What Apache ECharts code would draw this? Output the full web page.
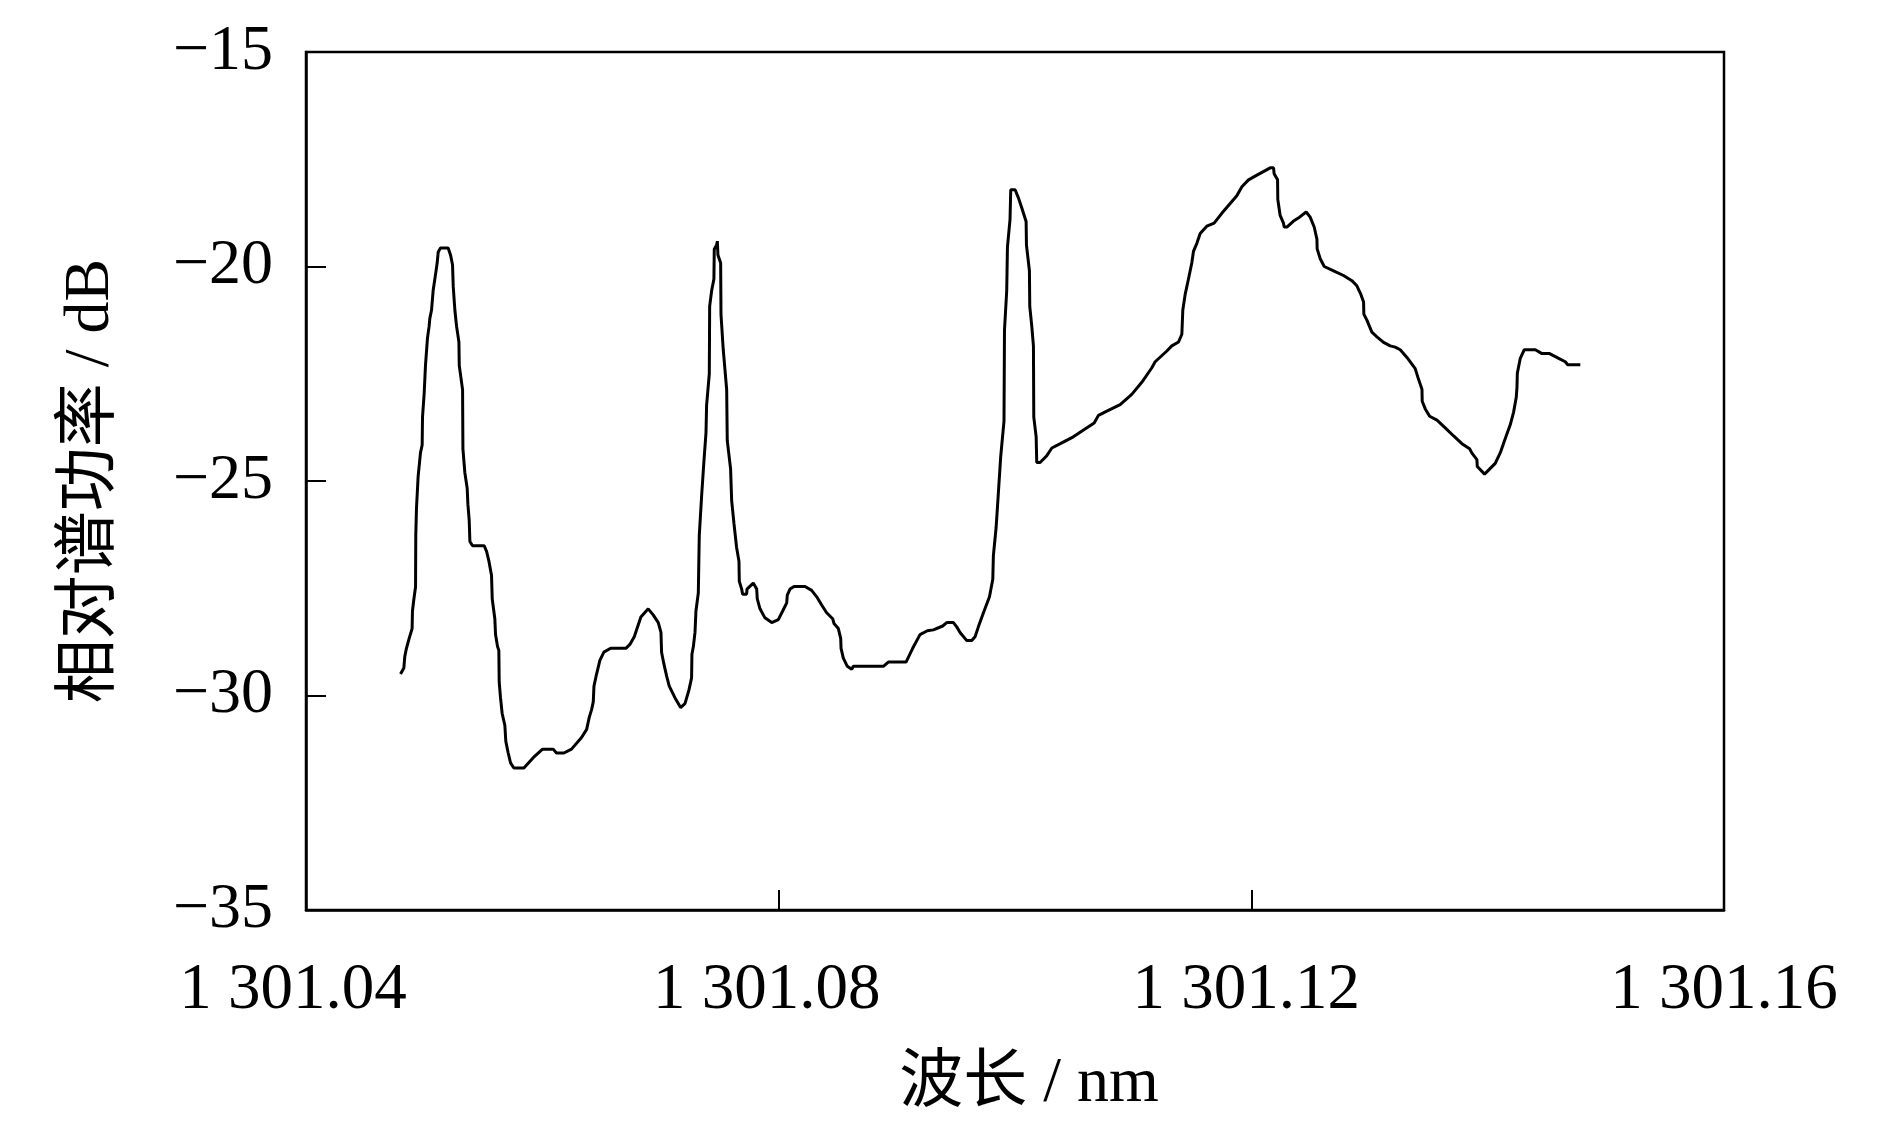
<!DOCTYPE html>
<html>
<head>
<meta charset="utf-8">
<script src="https://cdn.jsdelivr.net/npm/echarts@6/dist/echarts.min.js"></script>
<style>
html,body{margin:0;padding:0;background:#fff;}
#chart{width:1890px;height:1134px;}
</style>
</head>
<body>
<div id="chart"></div>
<script>
// Wavelength (nm) and relative spectral power (dB)
const wavelength = [
1301.04800,1301.04828,1301.04836,1301.04850,1301.04873,1301.04898,1301.04901,1301.04913,1301.04927,1301.04929,
1301.04935,1301.04949,1301.04969,1301.04983,1301.04986,1301.05000,1301.05011,1301.05028,1301.05042,1301.05048,
1301.05062,1301.05076,1301.05096,1301.05110,1301.05119,1301.05138,1301.05203,1301.05223,1301.05240,1301.05246,
1301.05260,1301.05274,1301.05294,1301.05297,1301.05311,1301.05325,1301.05328,1301.05344,1301.05364,1301.05370,
1301.05381,1301.05387,1301.05409,1301.05508,1301.05528,1301.05548,1301.05570,1301.05576,1301.05598,1301.05604,
1301.05621,1301.05632,1301.05635,1301.05646,1301.05660,1301.05683,1301.05691,1301.05711,1301.05731,1301.05759,
1301.05844,1301.05923,1301.06002,1301.06092,1301.06120,1301.06183,1301.06247,1301.06332,1301.06375,1301.06397,
1301.06417,1301.06431,1301.06437,1301.06459,1301.06487,
1301.06521,1301.06578,1301.06707,1301.06741,1301.06778,1301.06812,1301.06834,1301.06896,1301.06938,1301.06981,
1301.07004,1301.07009,1301.07029,1301.07052,1301.07074,1301.07122,1301.07170,1301.07207,1301.07241,1301.07263,
1301.07266,1301.07278,1301.07292,1301.07300,1301.07320,1301.07328,1301.07348,1301.07368,1301.07385,1301.07390,
1301.07413,1301.07416,1301.07433,1301.07452,1301.07455,1301.07475,1301.07481,1301.07486,1301.07509,1301.07512,
1301.07531,1301.07560,1301.07565,1301.07593,1301.07602,1301.07622,1301.07644,1301.07664,1301.07667,1301.07687,
1301.07695,1301.07729,1301.07732,1301.07785,1301.07814,1301.07819,1301.07842,1301.07884,1301.07941,1301.07997,
1301.08034,1301.08068,1301.08073,1301.08096,1301.08130,1301.08180,
1301.08223,1301.08279,1301.08322,1301.08364,1301.08406,1301.08457,1301.08468,1301.08505,1301.08525,1301.08528,
1301.08547,1301.08581,1301.08618,1301.08632,1301.08886,1301.08928,1301.09078,1301.09134,1301.09196,1301.09258,
1301.09309,1301.09388,1301.09422,1301.09479,1301.09507,1301.09535,1301.09592,1301.09634,1301.09662,1301.09690,
1301.09733,1301.09784,1301.09812,1301.09817,1301.09840,1301.09851,
1301.09879,1301.09907,1301.09911,1301.09930,1301.09936,1301.09958,1301.09964,1301.10001,1301.10029,1301.10057,
1301.10094,1301.10097,1301.10122,1301.10125,1301.10142,1301.10156,1301.10159,1301.10179,1301.10184,1301.10212,
1301.10269,1301.10312,1301.10396,1301.10481,1301.10580,1301.10670,1301.10706,1301.10777,1301.10890,1301.10988,
1301.11073,1301.11158,1301.11186,1301.11285,1301.11327,1301.11384,1301.11412,1301.11420,1301.11440,1301.11468,
1301.11496,1301.11511,1301.11539,1301.11567,
1301.11623,1301.11685,1301.11750,1301.11821,1301.11877,1301.11920,1301.11976,1301.12047,1301.12160,1301.12188,
1301.12193,1301.12222,1301.12224,1301.12244,1301.12272,1301.12278,1301.12301,1301.12357,1301.12408,1301.12464,
1301.12498,1301.12532,1301.12555,1301.12557,1301.12583,1301.12617,1301.12696,1301.12780,1301.12851,1301.12893,
1301.12927,1301.12950,1301.12952,1301.12978,1301.13020,1301.13063,1301.13119,1301.13175,1301.13218,1301.13260,
1301.13317,1301.13387,1301.13415,1301.13444,1301.13446,1301.13472,1301.13509,1301.13571,1301.13641,1301.13712,
1301.13782,1301.13847,1301.13867,1301.13909,1301.13912,1301.13974,1301.14064,1301.14107,1301.14149,1301.14191,
1301.14219,1301.14242,1301.14248,1301.14251,1301.14276,1301.14310,1301.14403,1301.14460,1301.14524,1301.14601,
1301.14657,1301.14677,1301.14784
];
const power = [
-29.50,-29.36,-29.09,-28.90,-28.67,-28.44,-28.03,-27.75,-27.47,-26.28,
-25.63,-24.89,-24.34,-24.16,-23.51,-22.96,-22.31,-21.67,-21.39,-21.21,
-21.02,-20.56,-20.19,-19.92,-19.66,-19.57,-19.57,-19.73,-19.96,-20.47,
-21.02,-21.39,-21.76,-22.31,-22.59,-22.87,-24.25,-24.80,-25.17,-25.54,
-25.91,-26.41,-26.51,-26.51,-26.64,-26.87,-27.20,-27.75,-28.21,-28.58,
-28.86,-28.95,-29.69,-30.05,-30.42,-30.70,-31.07,-31.34,-31.57,-31.69,
-31.69,-31.45,-31.25,-31.25,-31.34,-31.34,-31.25,-30.98,-30.79,-30.51,
-30.33,-30.15,-29.78,-29.50,-29.18,
-28.99,-28.90,-28.90,-28.81,-28.63,-28.35,-28.17,-27.98,-28.12,-28.30,
-28.53,-28.99,-29.27,-29.55,-29.78,-30.05,-30.28,-30.19,-29.87,-29.59,
-29.04,-28.86,-28.53,-28.03,-27.61,-26.28,-25.35,-24.52,-23.88,-23.24,
-22.50,-20.93,-20.56,-20.29,-19.60,-19.50,-19.41,-19.73,-19.92,-21.12,
-21.94,-22.87,-24.06,-24.71,-25.45,-26.00,-26.55,-26.87,-27.34,-27.52,
-27.64,-27.64,-27.52,-27.38,-27.52,-27.75,-27.98,-28.19,-28.30,-28.23,
-28.03,-27.84,-27.66,-27.52,-27.46,-27.46,
-27.46,-27.55,-27.70,-27.89,-28.07,-28.21,-28.32,-28.44,-28.67,-28.90,
-29.13,-29.32,-29.39,-29.32,-29.32,-29.22,-29.22,-28.90,-28.58,-28.49,
-28.47,-28.38,-28.30,-28.30,-28.40,-28.53,-28.72,-28.72,-28.63,-28.40,
-28.07,-27.70,-27.29,-26.74,-26.09,-25.63,
-24.43,-23.60,-21.48,-20.56,-19.55,-18.90,-18.21,-18.21,-18.40,-18.63,
-18.95,-19.50,-20.10,-20.93,-21.39,-21.85,-23.51,-23.97,-24.57,-24.57,
-24.41,-24.23,-24.11,-23.99,-23.81,-23.65,-23.47,-23.37,-23.22,-22.98,
-22.70,-22.36,-22.22,-21.97,-21.85,-21.76,-21.58,-21.02,-20.65,-20.29,
-19.92,-19.64,-19.46,-19.23,
-19.06,-18.99,-18.76,-18.53,-18.35,-18.14,-17.98,-17.87,-17.70,-17.70,
-17.84,-17.98,-18.44,-18.81,-18.99,-19.08,-19.08,-18.94,-18.85,-18.73,
-18.85,-19.08,-19.36,-19.59,-19.82,-20.00,-20.10,-20.21,-20.33,-20.45,
-20.65,-20.83,-21.11,-21.25,-21.53,-21.64,-21.77,-21.85,-21.88,-21.94,
-22.12,-22.38,-22.63,-22.86,-23.14,-23.32,-23.49,-23.58,-23.76,-23.95,
-24.13,-24.25,-24.35,-24.50,-24.66,-24.84,-24.59,-24.34,-24.01,-23.69,
-23.40,-23.05,-22.82,-22.49,-22.14,-21.94,-21.94,-22.03,-22.03,-22.14,
-22.22,-22.29,-22.29
];
const xTickLabels = ['1 301.04', '1 301.08', '1 301.12', '1 301.16'];
const yTickLabels = ['\u221235', '\u221230', '\u221225', '\u221220', '\u221215'];
const X_MIN = 1301.04, X_MAX = 1301.16, X_STEP = 0.04;
const Y_MIN = -35, Y_MAX = -15, Y_STEP = 5;
const xName = '波长 / nm';
const yName = '相对谱功率 / dB';

const FONT = "'Liberation Serif', 'Times New Roman', 'Noto Sans CJK SC', serif";
const seriesData = wavelength.map((w, i) => [w, power[i]]);

// per-label horizontal nudges (label styles, not data)
const xLabelRich = {
  l0: {fontFamily: FONT, fontSize: 65, color: '#000', padding: [0, 26, 0, 0]},
  l1: {fontFamily: FONT, fontSize: 65, color: '#000', padding: [0, 24, 0, 0]},
  l2: {fontFamily: FONT, fontSize: 65, color: '#000', padding: [0, 10, 0, 0]},
  l3: {fontFamily: FONT, fontSize: 65, color: '#000', padding: [0, 0, 0, 0]}
};

const chart = echarts.init(document.getElementById('chart'), null, {renderer: 'canvas'});
chart.setOption({
  backgroundColor: '#fff',
  animation: false,
  grid: {left: 306, top: 52, width: 1418, height: 858, show: true, borderColor: '#000', borderWidth: 2.5, backgroundColor: 'transparent'},
  xAxis: {
    type: 'value', min: X_MIN, max: X_MAX, interval: X_STEP,
    name: xName, nameLocation: 'middle', nameGap: 142,
    nameTextStyle: {fontFamily: FONT, fontSize: 64, color: '#000', padding: [0, 0, 0, 28]},
    axisLine: {show: true, lineStyle: {color: '#000', width: 2.5}},
    axisTick: {show: true, inside: true, length: 20, lineStyle: {color: '#000', width: 2}},
    splitLine: {show: false},
    axisLabel: {
      margin: 48, fontFamily: FONT, fontSize: 65, color: '#000',
      rich: xLabelRich,
      formatter: function (v) {
        const i = Math.round((v - X_MIN) / X_STEP);
        return xTickLabels[i] ? '{l' + i + '|' + xTickLabels[i] + '}' : '';
      }
    }
  },
  yAxis: {
    type: 'value', min: Y_MIN, max: Y_MAX, interval: Y_STEP,
    name: yName, nameLocation: 'middle', nameGap: 183, nameRotate: 90,
    nameTextStyle: {fontFamily: FONT, fontSize: 64, color: '#000'},
    axisLine: {show: true, lineStyle: {color: '#000', width: 2.5}},
    axisTick: {show: true, inside: true, length: 20, lineStyle: {color: '#000', width: 2}},
    splitLine: {show: false},
    axisLabel: {
      margin: 33, fontFamily: FONT, fontSize: 64, color: '#000',
      formatter: function (v) { const i = Math.round((v - Y_MIN) / Y_STEP); return yTickLabels[i] || ''; }
    }
  },
  series: [{
    type: 'line', data: seriesData, showSymbol: false, symbol: 'none', smooth: false,
    lineStyle: {color: '#000', width: 3}, silent: true
  }]
});
</script>
</body>
</html>
